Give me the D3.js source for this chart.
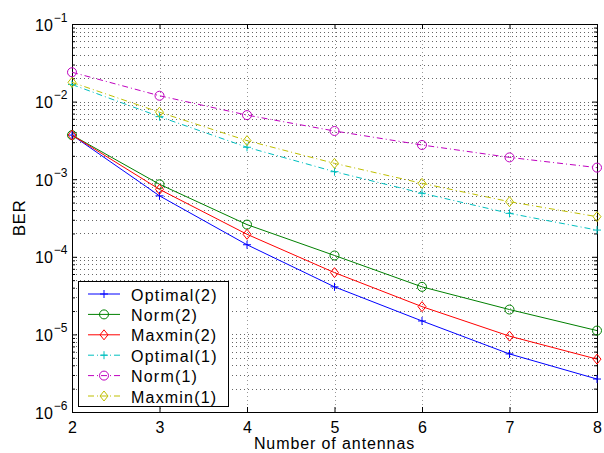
<!DOCTYPE html>
<html>
<head>
<meta charset="utf-8">
<script src="https://cdn.jsdelivr.net/npm/d3@7"></script>
<style>
  body { margin: 0; background: #fff; }
  text { font-family: "Liberation Sans", Arial, Helvetica, sans-serif; }
</style>
</head>
<body>
<div id="chart"></div>
<script>
// Data
const antennas = [2, 3, 4, 5, 6, 7, 8];
const optimal2 = [3.7e-3, 6.1e-4, 1.43e-4, 4.1e-5, 1.49e-5, 5.6e-6, 2.66e-6];
const norm2    = [3.7e-3, 8.6e-4, 2.6e-4, 1.04e-4, 4.1e-5, 2.09e-5, 1.12e-5];
const maxmin2  = [3.7e-3, 7.4e-4, 1.95e-4, 6.25e-5, 2.28e-5, 9.5e-6, 4.8e-6];
const optimal1 = [1.66e-2, 6.4e-3, 2.58e-3, 1.25e-3, 6.6e-4, 3.63e-4, 2.21e-4];
const norm1    = [2.39e-2, 1.19e-2, 6.7e-3, 4.18e-3, 2.76e-3, 1.91e-3, 1.41e-3];
const maxmin1  = [1.77e-2, 7.3e-3, 3.14e-3, 1.6e-3, 8.85e-4, 5.13e-4, 3.29e-4];
const decades = [-6, -5, -4, -3, -2, -1];

const series = [
    { name: "Optimal(2)", values: optimal2, color: "#0000ff", dash: null, marker: "plus" },
    { name: "Norm(2)", values: norm2, color: "#008000", dash: null, marker: "circle" },
    { name: "Maxmin(2)", values: maxmin2, color: "#ff0000", dash: null, marker: "diamond" },
    { name: "Optimal(1)", values: optimal1, color: "#00bfbf", dash: "6,3,1,3", marker: "plus" },
    { name: "Norm(1)", values: norm1, color: "#bf00bf", dash: "6,3,1,3", marker: "circle" },
    { name: "Maxmin(1)", values: maxmin1, color: "#bfbf00", dash: "6,3,1,3", marker: "diamond" }
];

const width = 604, height = 453;
const mLeft = 72, mRight = 597, mTop = 24, mBottom = 412;

const svg = d3.select("#chart")
    .append("svg")
    .attr("width", width)
    .attr("height", height);

const x = d3.scaleLinear().domain([2, 8]).range([mLeft, mRight]);
const y = d3.scaleLog().domain([1e-6, 1e-1]).range([mBottom, mTop]);

// minor y ticks
const minorY = [];
decades.slice(0, -1).forEach(p => {
    for (let k = 2; k <= 9; k++) minorY.push(k * Math.pow(10, p));
});
const majorY = decades.map(p => Math.pow(10, p));

// grid (dotted, matlab style)
const grid = svg.append("g")
    .attr("stroke", "#666")
    .attr("stroke-width", 1)
    .attr("stroke-dasharray", "1,3");

grid.selectAll(".gx")
    .data(antennas.slice(1, -1))
    .enter()
    .append("line")
    .attr("stroke", "#999")
    .attr("x1", d => Math.round(x(d)) + 0.5)
    .attr("x2", d => Math.round(x(d)) + 0.5)
    .attr("y1", mTop)
    .attr("y2", mBottom);

grid.selectAll(".gy")
    .data(minorY.concat(majorY.slice(1, -1)))
    .enter()
    .append("line")
    .attr("x1", mLeft)
    .attr("x2", mRight)
    .attr("y1", d => Math.round(y(d)) + 0.5)
    .attr("y2", d => Math.round(y(d)) + 0.5);

// axes box with inward ticks
svg.append("g")
    .attr("transform", `translate(0,${mBottom})`)
    .call(d3.axisBottom(x).tickValues(antennas).tickSize(-5).tickPadding(10).tickFormat(d3.format("d")))
    .call(g => g.select(".domain").remove())
    .call(g => g.selectAll("text").style("font-size", "16px").attr("fill", "#000"));

svg.append("g")
    .attr("transform", `translate(0,${mTop})`)
    .call(d3.axisTop(x).tickValues(antennas).tickSize(-5).tickFormat(""))
    .call(g => g.select(".domain").remove());

svg.append("g")
    .attr("transform", `translate(${mLeft},0)`)
    .call(d3.axisLeft(y).tickValues(majorY).tickSize(-5).tickFormat(""))
    .call(g => g.select(".domain").remove());

svg.append("g")
    .attr("transform", `translate(${mLeft},0)`)
    .call(d3.axisLeft(y).tickValues(minorY).tickSize(-3).tickFormat(""))
    .call(g => g.select(".domain").remove());

svg.append("g")
    .attr("transform", `translate(${mRight},0)`)
    .call(d3.axisRight(y).tickValues(majorY).tickSize(-5).tickFormat(""))
    .call(g => g.select(".domain").remove());

svg.append("g")
    .attr("transform", `translate(${mRight},0)`)
    .call(d3.axisRight(y).tickValues(minorY).tickSize(-3).tickFormat(""))
    .call(g => g.select(".domain").remove());

svg.append("rect")
    .attr("x", mLeft + 0.5)
    .attr("y", mTop + 0.5)
    .attr("width", mRight - mLeft)
    .attr("height", mBottom - mTop)
    .attr("fill", "none")
    .attr("stroke", "#000")
    .attr("stroke-width", 1);

// y tick labels 10^p
const yl = svg.append("g");
decades.forEach(p => {
    const t = yl.append("text")
        .attr("x", mLeft - 37)
        .attr("y", y(Math.pow(10, p)) + 6.5)
        .style("font-size", "16px")
        .attr("fill", "#000");
    t.append("tspan").text("10");
    t.append("tspan")
        .attr("dy", -9)
        .attr("dx", 1)
        .style("font-size", "12px")
        .text("\u2212" + Math.abs(p));
});

// axis labels
svg.append("text")
    .attr("x", (mLeft + mRight) / 2)
    .attr("y", 449)
    .attr("text-anchor", "middle")
    .style("font-size", "16px")
    .style("letter-spacing", "0.9px")
    .text("Number of antennas");

svg.append("text")
    .attr("transform", `translate(25,${(mTop + mBottom) / 2}) rotate(-90)`)
    .attr("text-anchor", "middle")
    .style("font-size", "17px")
    .style("letter-spacing", "0.5px")
    .text("BER");

// markers
function drawMarker(g, type, cx, cy, color) {
    if (type === "plus") {
        g.append("path")
            .attr("d", `M${cx - 4},${cy}H${cx + 4}M${cx},${cy - 4}V${cy + 4}`)
            .attr("stroke", color).attr("fill", "none");
    } else if (type === "circle") {
        g.append("circle")
            .attr("cx", cx).attr("cy", cy).attr("r", 4.5)
            .attr("stroke", color).attr("fill", "none");
    } else {
        g.append("path")
            .attr("d", `M${cx},${cy - 5}L${cx + 4},${cy}L${cx},${cy + 5}L${cx - 4},${cy}Z`)
            .attr("stroke", color).attr("fill", "none");
    }
}

const line = d3.line()
    .x(d => x(d[0]))
    .y(d => y(d[1]));

series.forEach(s => {
    const pts = antennas.map((a, i) => [a, s.values[i]]);
    const g = svg.append("g");
    g.append("path")
        .datum(pts)
        .attr("fill", "none")
        .attr("stroke", s.color)
        .attr("stroke-width", 1)
        .attr("stroke-dasharray", s.dash)
        .attr("d", line);
    pts.forEach(p => drawMarker(g, s.marker, x(p[0]), y(p[1]), s.color));
});

// legend
const legend = svg.append("g");
legend.append("rect")
    .attr("x", 78.5)
    .attr("y", 281.5)
    .attr("width", 150)
    .attr("height", 125)
    .attr("fill", "#fff")
    .attr("stroke", "#000");

series.forEach((s, i) => {
    const ly = 294 + i * 20.4;
    const g = legend.append("g");
    g.append("line")
        .attr("x1", 88).attr("x2", 120)
        .attr("y1", ly).attr("y2", ly)
        .attr("stroke", s.color)
        .attr("stroke-dasharray", s.dash);
    drawMarker(g, s.marker, 104, ly, s.color);
    g.append("text")
        .attr("x", 131)
        .attr("y", ly + 6.5)
        .style("font-size", "16px")
        .style("letter-spacing", "1.2px")
        .text(s.name);
});
</script>
</body>
</html>
